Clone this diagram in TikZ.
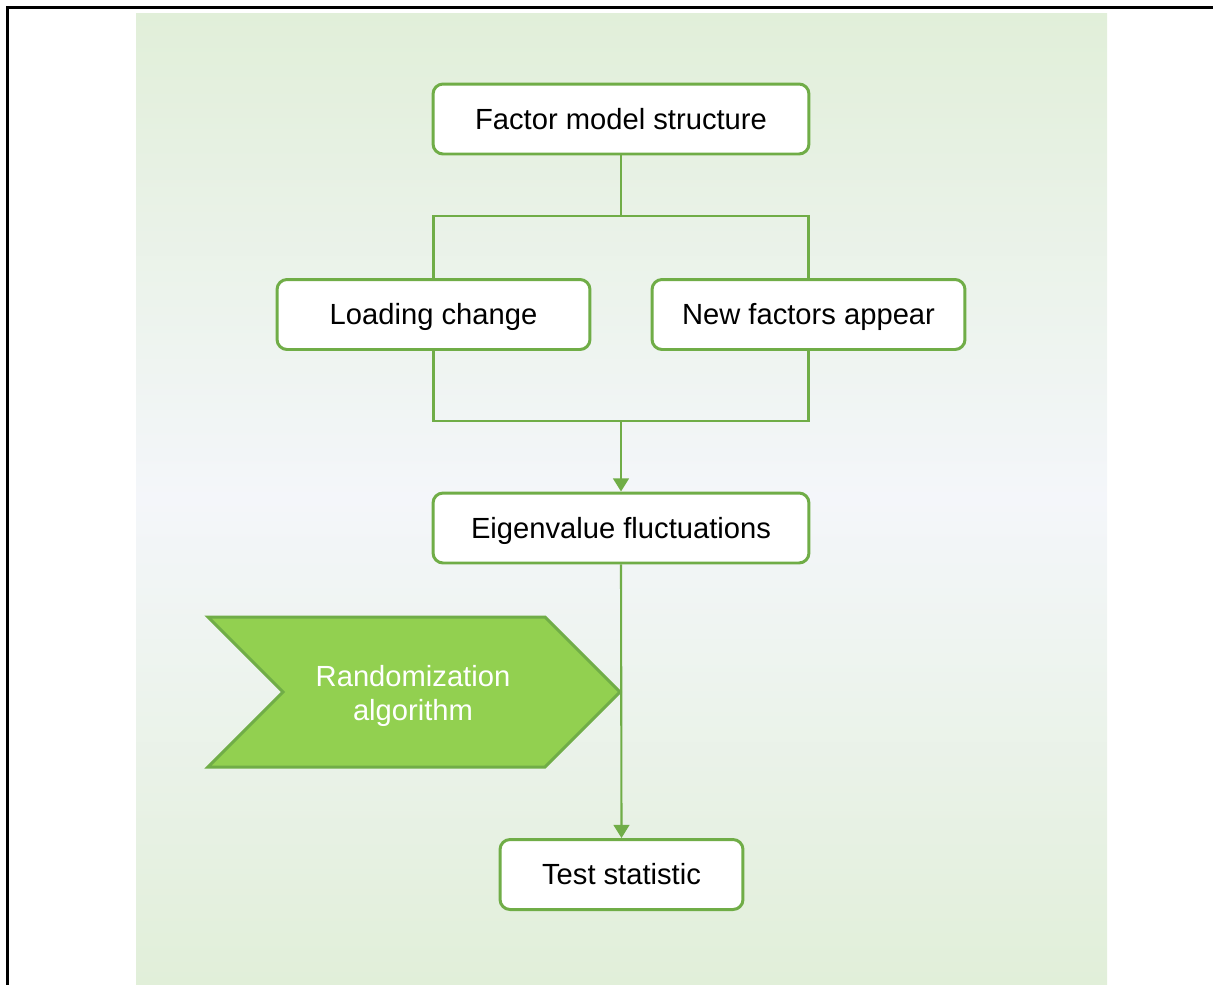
\documentclass[tikz,border=0pt]{standalone}
\usepackage{fontspec}
\setmainfont{Liberation Sans}
\usetikzlibrary{arrows.meta}
\definecolor{boxgreen}{RGB}{112,173,71}
\definecolor{chevgreen}{RGB}{146,208,80}
\definecolor{bgtop}{RGB}{225,239,217}
\definecolor{bgmid}{RGB}{244,246,250}

\begin{document}
\begin{tikzpicture}[x=0.02cm,y=-0.02cm,
	box/.style={draw=boxgreen,line width=1.7pt,fill=white,rounded corners=0.2cm,
		minimum height=1.4cm,inner sep=0pt,text height=11.9pt,text depth=0pt,
		font=\fontsize{16.6}{19.8}\selectfont},
	link/.style={draw=boxgreen,line width=1.2pt},
	tip/.style={-{Triangle[width=9pt,length=7.5pt]}},
	chev/.style={draw=boxgreen,line width=1.7pt,fill=chevgreen,line join=miter}]
	\useasboundingbox (0,0) rectangle (1213,984);
	\shade[top color=bgtop,bottom color=bgtop,middle color=bgmid] (136,13) rectangle (1107,984);
	\draw[line width=2pt] (7.5,1000) -- (7.5,7.5) -- (1230,7.5);

	\node[box,minimum width=7.52cm] (0) at (621,119) {Factor model structure};
	\node[box,minimum width=6.26cm] (1) at (433.5,314.5) {Loading change};
	\node[box,minimum width=6.26cm] (2) at (808.5,314.5) {New factors appear};
	\node[box,minimum width=7.52cm] (3) at (621,528) {Eigenvalue fluctuations};
	\node[box,minimum width=4.86cm] (4) at (621.5,874.5) {Test statistic};
	\draw[chev] (208,617) -- (545,617) -- (620,692) -- (545,767) -- (208,767) -- (283,692) -- cycle;
	\node[text=white,align=center,font=\fontsize{16.6}{19.8}\selectfont] (5) at (413,696) {Randomization\\algorithm};
	\coordinate (6) at (621,216);
	\coordinate (7) at (621,421);

	\draw[link] (0.south) -- (6);
	\draw[link] (1.north) |- (6) -| (2.north);
	\draw[link] (1.south) |- (7) -| (2.south);
	\draw[link,tip] (7) -- (3.north);
	\draw[link,tip] (3.south) -- (4.north);
\end{tikzpicture}
\end{document}
